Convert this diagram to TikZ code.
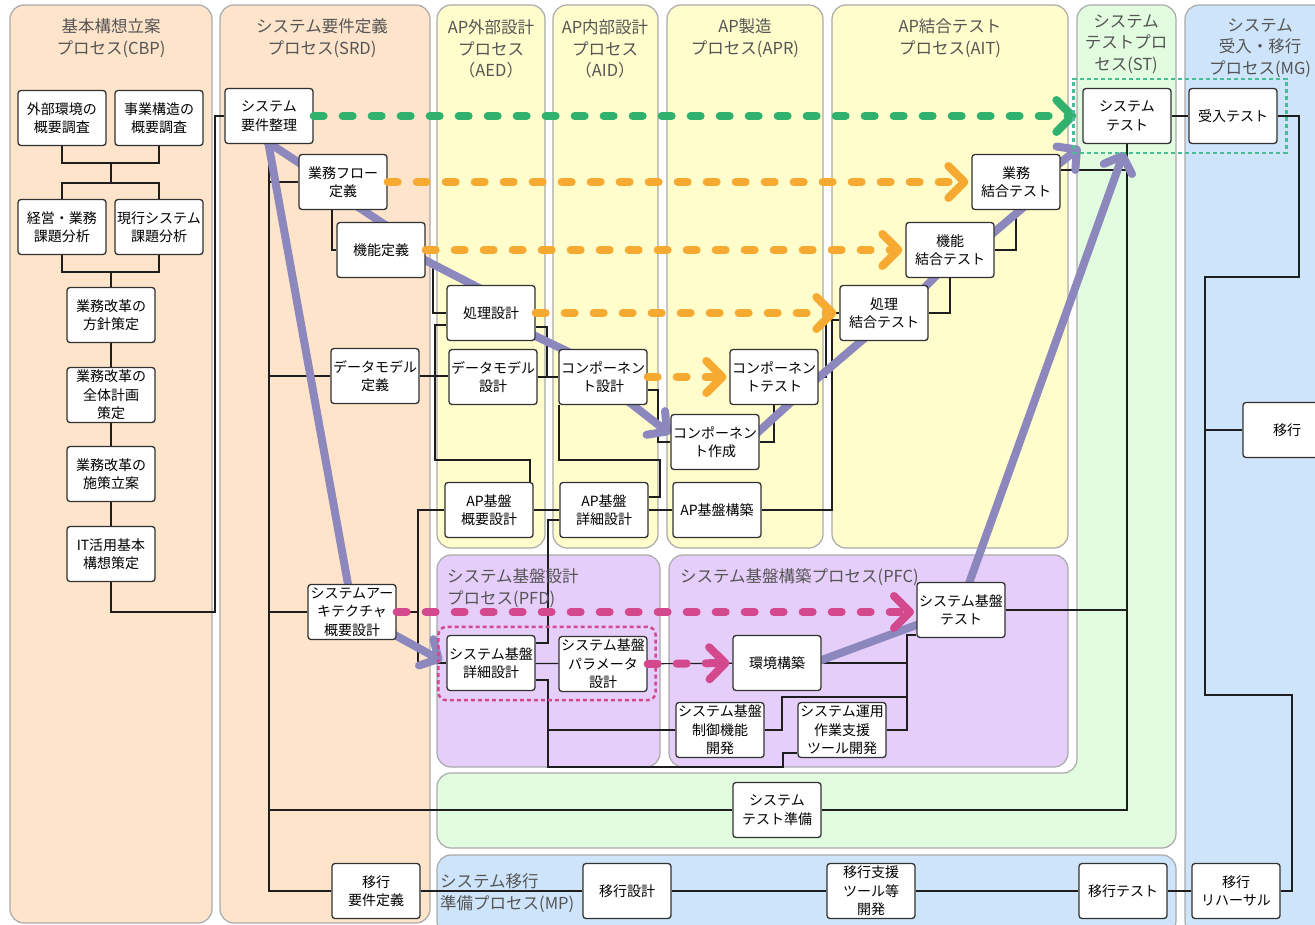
\documentclass[tikz,border=0pt]{standalone}
\usepackage{fontspec}
\setmainfont{Noto Sans CJK JP}
\usetikzlibrary{arrows.meta, positioning, fit, backgrounds}

\pgfdeclarelayer{lanes}
\pgfsetlayers{lanes,background,main}

\definecolor{peach}{RGB}{253,228,203}
\definecolor{lyellow}{RGB}{255,253,203}
\definecolor{lgreen}{RGB}{226,252,224}
\definecolor{lblue}{RGB}{205,228,250}
\definecolor{lpurple}{RGB}{230,206,250}
\definecolor{lanegray}{RGB}{170,170,170}
\definecolor{titlegray}{RGB}{85,85,85}
\definecolor{boxline}{RGB}{50,50,50}
\definecolor{wirecol}{RGB}{30,30,30}
\definecolor{vpurple}{RGB}{140,136,190}
\definecolor{dgreen}{RGB}{48,178,110}
\definecolor{dorange}{RGB}{247,170,50}
\definecolor{dmagenta}{RGB}{212,72,142}
\definecolor{dteal}{RGB}{70,190,145}

\begin{document}
\begin{tikzpicture}[x=1pt, y=-1pt,
    lane/.style={draw=lanegray, line width=1.2pt, rounded corners=14pt},
    lanetitle/.style={font=\fontsize{16.5}{21.5}\selectfont, text=titlegray, align=center, inner sep=0pt},
    box/.style={draw=boxline, fill=white, line width=1.3pt, rounded corners=3pt, minimum width=88pt, minimum height=55pt, align=center, inner sep=1pt, font=\fontsize{14}{18.5}\selectfont},
    wire/.style={draw=wirecol, line width=1.2pt},
    vline/.style={draw=vpurple, line width=8pt, line join=round},
    varrow/.style={vline, -{Straight Barb[length=14pt,width=30pt,round]}},
    gdash/.style={draw=dgreen, line width=8pt, line cap=round, dash pattern=on 10pt off 19pt, -{Straight Barb[length=16pt,width=32pt,round]}},
    odash/.style={gdash, draw=dorange},
    mdash/.style={gdash, draw=dmagenta},
    dotbox/.style={line width=2.5pt, dash pattern=on 4pt off 3pt}
]
\useasboundingbox (0,0) rectangle (1315,925);

% Process lanes
\begin{pgfonlayer}{lanes}
\fill[white] (0,0) rectangle (1315,925);
\draw[lane, fill=peach] (10,5) rectangle (212,923);
\draw[lane, fill=peach] (220,5) rectangle (430,923);
\draw[lane, fill=lyellow] (437,5) rectangle (545,548);
\draw[lane, fill=lyellow] (553,5) rectangle (658,548);
\draw[lane, fill=lyellow] (667,5) rectangle (823,548);
\draw[lane, fill=lyellow] (832,5) rectangle (1068,548);
\draw[lane, fill=lgreen] (1126,5) -- (1176,5) -- (1176,848) -- (437,848) -- (437,773) -- (1077,773) -- (1077,5) -- cycle;
\draw[lane, fill=lblue] (1185,5) rectangle (1340,935);
\draw[lane, fill=lblue] (437,855) rectangle (1176,935);
\draw[lane, fill=lpurple] (437,555) rectangle (660,767);
\draw[lane, fill=lpurple] (669,555) rectangle (1068,767);
\end{pgfonlayer}

% Lane titles
\node[lanetitle] (cbpT) at (111,38) {基本構想立案\\プロセス(CBP)};
\node[lanetitle] (srdT) at (322,38) {システム要件定義\\プロセス(SRD)};
\node[lanetitle] (aedT) at (491,49) {AP外部設計\\プロセス\\（AED）};
\node[lanetitle] (aidT) at (605,49) {AP内部設計\\プロセス\\（AID）};
\node[lanetitle] (aprT) at (745,38) {AP製造\\プロセス(APR)};
\node[lanetitle] (aitT) at (950,38) {AP結合テスト\\プロセス(AIT)};
\node[lanetitle] (stT) at (1126,44) {システム\\テストプロ\\セス(ST)};
\node[lanetitle] (mgT) at (1260,48) {システム\\受入・移行\\プロセス(MG)};
\node[lanetitle, align=left, anchor=west] (pfdT) at (447,588) {システム基盤設計\\プロセス(PFD)};
\node[lanetitle, anchor=west] (pfcT) at (680,577) {システム基盤構築プロセス(PFC)};
\node[lanetitle, align=left, anchor=west] (mpT) at (440,893) {システム移行\\準備プロセス(MP)};

% CBP boxes
\node[box] (gaibu) at (62,118) {外部環境の\\概要調査};
\node[box] (jigyo) at (159,118) {事業構造の\\概要調査};
\node[box] (keiei) at (62,227) {経営・業務\\課題分析};
\node[box] (genko) at (159,227) {現行システム\\課題分析};
\node[box] (hoshin) at (111,315) {業務改革の\\方針策定};
\node[box] (zentai) at (111,395) {業務改革の\\全体計画\\策定};
\node[box] (shisaku) at (111,474) {業務改革の\\施策立案};
\node[box] (itkoso) at (111,554) {IT活用基本\\構想策定};

% SRD boxes
\node[box] (youken) at (269,116) {システム\\要件整理};
\node[box] (flow) at (343,182) {業務フロー\\定義};
\node[box] (kinou) at (381,250) {機能定義};
\node[box] (dmteigi) at (375,376) {データモデル\\定義};
\node[box] (arch) at (352,612) {システムアー\\キテクチャ\\概要設計};
\node[box] (ikoureq) at (376,891) {移行\\要件定義};

% AP design and build boxes
\node[box] (shori) at (491,313) {処理設計};
\node[box] (dmsekkei) at (493,377) {データモデル\\設計};
\node[box] (apgaiyo) at (489,510) {AP基盤\\概要設計};
\node[box] (compsekkei) at (603,377) {コンポーネン\\ト設計};
\node[box] (apshosai) at (604,510) {AP基盤\\詳細設計};
\node[box] (compsakusei) at (715,442) {コンポーネン\\ト作成};
\node[box] (comptest) at (774,377) {コンポーネン\\トテスト};
\node[box] (apkochiku) at (717,510) {AP基盤構築};

% AP test boxes
\node[box] (shoriketsu) at (884,313) {処理\\結合テスト};
\node[box] (kinouketsu) at (950,250) {機能\\結合テスト};
\node[box] (gyomuketsu) at (1016,182) {業務\\結合テスト};

% System test and migration boxes
\node[box] (systest) at (1127,116) {システム\\テスト};
\node[box] (sttestprep) at (777,810) {システム\\テスト準備};
\node[box] (ukeire) at (1233,116) {受入テスト};
\node[box] (ikou) at (1287,430) {移行};
\node[box] (rehearsal) at (1236,891) {移行\\リハーサル};

% Platform boxes
\node[box] (kibanshosai) at (491,663) {システム基盤\\詳細設計};
\node[box] (param) at (603,664) {システム基盤\\パラメータ\\設計};
\node[box] (kankyo) at (777,663) {環境構築};
\node[box] (seigyo) at (720,730) {システム基盤\\制御機能\\開発};
\node[box] (unyo) at (842,730) {システム運用\\作業支援\\ツール開発};
\node[box] (kibantest) at (961,610) {システム基盤\\テスト};

% Migration prep boxes
\node[box] (ikousekkei) at (627,891) {移行設計};
\node[box] (shien) at (871,891) {移行支援\\ツール等\\開発};
\node[box] (ikoutest) at (1123,891) {移行テスト};

\begin{pgfonlayer}{background}
% CBP wiring
\coordinate (c1) at (111,163);
\coordinate (c2) at (111,183);
\coordinate (c3) at (111,272);
\draw[wire] (gaibu.south) |- (c1) -| (jigyo.south);
\draw[wire] (c1) -- (c2);
\draw[wire] (keiei.north) |- (c2) -| (genko.north);
\draw[wire] (keiei.south) |- (c3) -| (genko.south);
\draw[wire] (c3) -- (hoshin.north);
\draw[wire] (hoshin) -- (zentai) -- (shisaku) -- (itkoso);
\draw[wire] (itkoso.south) |- (215,612) |- (youken.west);

% SRD wiring
\draw[wire] (youken.south) |- (ikoureq.west);
\draw[wire] (youken.south |- flow.west) -- (flow.west);
\draw[wire] (youken.south |- dmteigi.west) -- (dmteigi.west);
\draw[wire] (youken.south |- arch.west) -- (arch.west);
\draw[wire] (youken.south |- sttestprep.west) -- (sttestprep.west);
\draw[wire] ([xshift=-11pt]flow.south) |- (kinou.west);
\draw[wire] (dmteigi.east) -- (dmteigi.east -| dmsekkei.west);
\draw[wire] (ikoureq) -- (ikousekkei) -- (shien) -- (ikoutest) -- (rehearsal);

% AP design wiring
\draw[wire] ([yshift=-13pt]kinou.east) -| (433,313) -- (shori.west);
\draw[wire] ([yshift=-12pt]shori.west) -| (435,460) -| ([xshift=41pt]apgaiyo.north);
\draw[wire] (arch.east) -- (418,612) |- (apgaiyo.west);
\draw[wire] (418,612) |- (kibanshosai.west);
\draw[wire] (apgaiyo) -- (apshosai) -- (apkochiku);
\draw[wire] ([yshift=-14pt]shori.east) -| (547,377) -- (compsekkei.west);
\draw[wire] (dmsekkei.east) -- (547,377);
\draw[wire] ([yshift=-13pt]compsekkei.east) -| (658,442) -- (compsakusei.west);
\draw[wire] ([xshift=-44pt]compsekkei.south) |- (660,460) |- ([yshift=13pt]apshosai.east);
\draw[wire] ([yshift=-10pt]apshosai.west) -| (548,643) -- ([yshift=20pt]kibanshosai.east);

% AP test wiring
\draw[wire] (compsakusei.east) -| (comptest.south);
\draw[wire] (comptest.east) -| (826,313) -- (shoriketsu.west);
\draw[wire] (apkochiku.east) -| (832,320) -- ([yshift=-7pt]shoriketsu.west);
\draw[wire] (shoriketsu.east) -| (kinouketsu.south);
\draw[wire] (kinouketsu.east) -| (gyomuketsu.south);
\draw[wire] ([yshift=12pt]gyomuketsu.east) -- (1127,170);

% Platform wiring
\draw[wire] (kibanshosai) -- (param) -- (kankyo);
\draw[wire] ([yshift=-17pt]kibanshosai.east) -| (548,730) -- (seigyo.west);
\draw[wire] (548,730) |- (783,767) |- ([yshift=-23pt]unyo.west);
\draw[wire] (seigyo.east) -| (782,697) -- (907,697);
\draw[wire] (kankyo.east) -- (907,663);
\draw[wire] (unyo.east) -- (907,730) |- ([yshift=-25pt]kibantest.west);
\draw[wire] (kibantest.east) -- (kibantest.east -| systest.south);
\draw[wire] (systest.south) |- (sttestprep.east);

% Acceptance and migration wiring
\draw[wire] (systest) -- (ukeire);
\draw[wire] (ukeire.east) -| (1299,277) -| (1205,695) -| (1292,891) -- (rehearsal.east);
\draw[wire] (1205,430) -- (ikou.west);

% V-model flow
\draw[varrow] (266,130) -- (353,612) -- (442,661);
\draw[varrow] (266,141) -- (310,170) -- (355,205) -- (390,228) -- (415,255) -- (485,291) -- (527,332) -- (575,355) -- (620,395) -- (670,434);
\draw[varrow] (745,444) -- (800,394) -- (805,389) -- (880,325) -- (915,297) -- (945,267) -- (985,240) -- (1025,206) -- (1045,175) -- (1080,147);
\draw[vline] (800,668) -- (930,620);
\draw[varrow] (963,600) -- (1124,152);
\end{pgfonlayer}

% Test correspondence
\draw[gdash] (youken.east) -- ([xshift=-6pt]systest.west);
\draw[odash] (flow.east) -- ([xshift=-3pt]gyomuketsu.west);
\draw[odash] (kinou.east) -- ([xshift=-3pt]kinouketsu.west);
\draw[odash] (shori.east) -- ([xshift=-3pt]shoriketsu.west);
\draw[odash] (compsekkei.east) -- ([xshift=-3pt]comptest.west);
\draw[mdash] (arch.east) -- (914,612);
\draw[mdash] (param.east) -- ([xshift=-3pt]kankyo.west);

% Grouping frames
\node[dotbox, draw=dteal, fit=(systest)(ukeire), inner sep=9pt] (stgroup) {};
\node[dotbox, draw=dmagenta, rounded corners=8pt, fit=(kibanshosai)(param), inner sep=8pt] (pfdgroup) {};

\end{tikzpicture}
\end{document}
